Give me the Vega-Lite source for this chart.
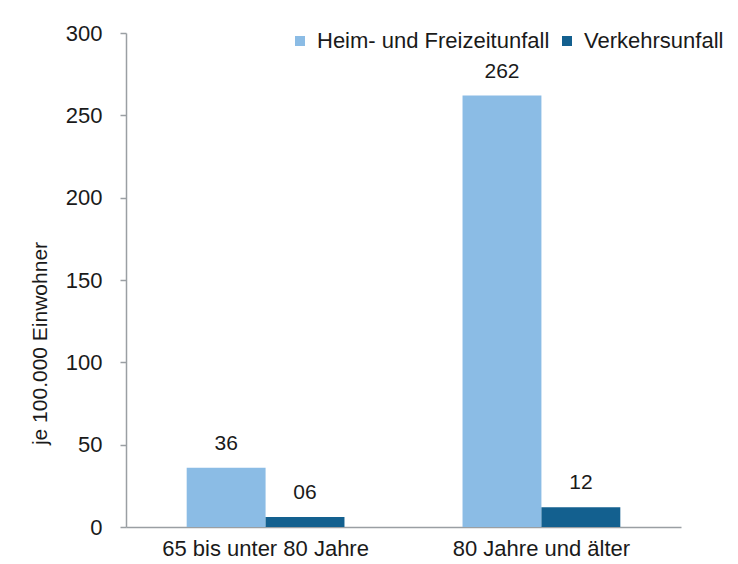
{
  "$schema": "https://vega.github.io/schema/vega-lite/v6.json",
  "autosize": "none",
  "width": 555,
  "height": 494,
  "padding": {"left": 126, "top": 33, "right": 57, "bottom": 37},
  "background": "white",
  "config": {
    "view": {"stroke": null},
    "font": "Liberation Sans",
    "text": {"font": "Liberation Sans"}
  },
  "data": {
    "values": [
      {"group": "65 bis unter 80 Jahre", "type": "Heim- und Freizeitunfall", "value": 36, "label": "36"},
      {"group": "65 bis unter 80 Jahre", "type": "Verkehrsunfall", "value": 6, "label": "06"},
      {"group": "80 Jahre und älter", "type": "Heim- und Freizeitunfall", "value": 262, "label": "262"},
      {"group": "80 Jahre und älter", "type": "Verkehrsunfall", "value": 12, "label": "12"}
    ]
  },
  "encoding": {
    "x": {
      "field": "group", "type": "nominal", "sort": null,
      "scale": {"paddingInner": 0.428, "paddingOuter": 0.22},
      "axis": {
        "title": null, "labelAngle": 0, "labelFontSize": 22, "labelColor": "#1a1a1a", "labelLimit": 0,
        "labelPadding": 11, "ticks": false, "domainColor": "#9a9fa3", "domainWidth": 1.5
      }
    },
    "xOffset": {"field": "type", "type": "nominal", "sort": ["Heim- und Freizeitunfall", "Verkehrsunfall"]},
    "y": {
      "field": "value", "type": "quantitative",
      "scale": {"domain": [0, 300], "nice": false},
      "axis": {
        "values": [0, 50, 100, 150, 200, 250, 300],
        "title": "je 100.000 Einwohner", "titleFontSize": 21, "titleFontWeight": "normal",
        "titleColor": "#1a1a1a", "titleX": -86, "titleY": 310, "titleAngle": -90,
        "titleAlign": "center", "titleBaseline": "middle",
        "labelFontSize": 22, "labelColor": "#1a1a1a", "labelPadding": 18,
        "tickSize": 6, "tickColor": "#9a9fa3", "tickWidth": 1.5,
        "domainColor": "#9a9fa3", "domainWidth": 1.5, "grid": false
      }
    }
  },
  "layer": [
    {
      "mark": {"type": "bar"},
      "encoding": {
        "color": {
          "field": "type", "type": "nominal",
          "scale": {"domain": ["Heim- und Freizeitunfall", "Verkehrsunfall"], "range": ["#8bbce5", "#13608f"]},
          "legend": {
            "title": null, "orient": "none", "direction": "horizontal",
            "legendX": 163, "legendY": -3, "labelLimit": 0,
            "symbolType": "square", "symbolSize": 100, "symbolStrokeWidth": 0,
            "labelFontSize": 22, "labelColor": "#1a1a1a", "labelOffset": 6,
            "columnPadding": 6
          }
        }
      }
    },
    {
      "mark": {"type": "text", "baseline": "bottom", "dy": -14, "fontSize": 21, "color": "#1a1a1a"},
      "encoding": {"text": {"field": "label"}}
    }
  ]
}
